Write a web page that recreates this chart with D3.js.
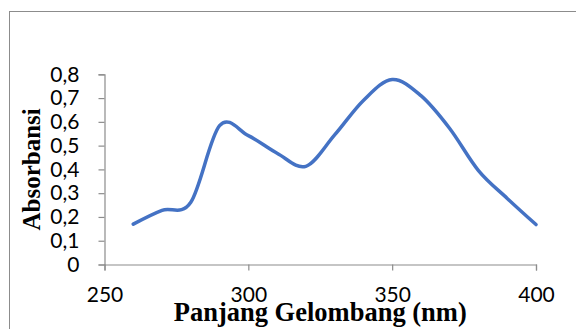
<!DOCTYPE html>
<html>
<head>
<meta charset="utf-8">
<script src="https://cdn.jsdelivr.net/npm/d3@7/dist/d3.min.js"></script>
<style>
  html, body { margin: 0; padding: 0; background: #fff; }
  svg { display: block; }
</style>
</head>
<body>
<svg id="chart" width="576" height="329"></svg>
<script>
// Data
const wavelengths = [260, 270, 280, 290, 300, 310, 320, 330, 340, 350, 360, 370, 380, 390, 400];
const absorbance  = [0.170, 0.228, 0.262, 0.584, 0.542, 0.468, 0.413, 0.545, 0.690, 0.778, 0.710, 0.572, 0.395, 0.278, 0.168];
const xTicks = [250, 300, 350, 400];
const yTicks = [0, 0.1, 0.2, 0.3, 0.4, 0.5, 0.6, 0.7, 0.8];
const xTitle = "Panjang Gelombang (nm)";
const yTitle = "Absorbansi";

const svg = d3.select("#chart");
const plot = { left: 104.5, right: 536, top: 74.3, bottom: 264.5 };

// outer chart frame (extends beyond the visible area to the right and bottom)
svg.append("rect")
  .attr("x", 9.5).attr("y", 11.5)
  .attr("width", 700).attr("height", 400)
  .attr("fill", "none").attr("stroke", "#8c8c8c").attr("stroke-width", 1);

const x = d3.scaleLinear().domain([250, 400]).range([plot.left, plot.right]);
const y = d3.scaleLinear().domain([0, 0.8]).range([plot.bottom, plot.top]);

const fmt = v => d3.format(".1f")(v).replace(".", ",");
const axisColor = "#8c8c8c";
const tickFont = "Lato, 'Open Sans', sans-serif";

// Y axis
const yAxis = svg.append("g")
  .attr("transform", `translate(${plot.left},0)`)
  .call(d3.axisLeft(y).tickValues(yTicks).tickSize(6).tickPadding(19)
        .tickFormat(v => v === 0 ? "0" : fmt(v)));
yAxis.select(".domain").attr("stroke", axisColor).attr("stroke-width", 1.2);
yAxis.selectAll(".tick line").attr("stroke", axisColor).attr("stroke-width", 1.2);
yAxis.selectAll(".tick text")
  .attr("fill", "#000").attr("font-family", tickFont).attr("font-size", 21);

// X axis
const xAxis = svg.append("g")
  .attr("transform", `translate(0,${plot.bottom})`)
  .call(d3.axisBottom(x).tickValues(xTicks).tickSize(6).tickPadding(17)
        .tickFormat(d3.format("d")));
xAxis.select(".domain").attr("stroke", axisColor).attr("stroke-width", 1.2);
xAxis.selectAll(".tick line").attr("stroke", axisColor).attr("stroke-width", 1.2);
xAxis.selectAll(".tick text")
  .attr("fill", "#000").attr("font-family", tickFont).attr("font-size", 21);

// Line
const line = d3.line()
  .x((d, i) => x(wavelengths[i]))
  .y(d => y(d))
  .curve(d3.curveCardinal.tension(0));

svg.append("path")
  .datum(absorbance)
  .attr("d", line)
  .attr("fill", "none")
  .attr("stroke", "#4472C4")
  .attr("stroke-width", 3.5)
  .attr("stroke-linecap", "round")
  .attr("stroke-linejoin", "round");

// Axis titles
svg.append("text")
  .attr("x", (plot.left + plot.right) / 2)
  .attr("y", 321)
  .attr("text-anchor", "middle")
  .attr("font-family", "'Liberation Serif', 'Times New Roman', serif")
  .attr("font-weight", "bold")
  .attr("font-size", 26.5)
  .attr("fill", "#000")
  .text(xTitle);

svg.append("text")
  .attr("transform", `translate(40,${(plot.top + plot.bottom) / 2}) rotate(-90)`)
  .attr("text-anchor", "middle")
  .attr("font-family", "'Liberation Serif', 'Times New Roman', serif")
  .attr("font-weight", "bold")
  .attr("font-size", 25)
  .attr("fill", "#000")
  .text(yTitle);
</script>
</body>
</html>
